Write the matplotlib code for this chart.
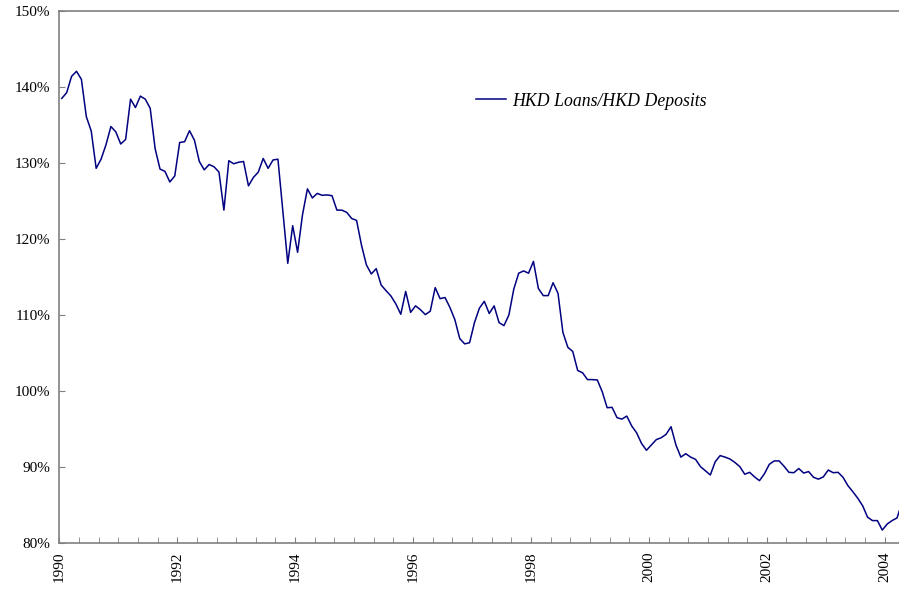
import numpy as np
import matplotlib.pyplot as plt
from matplotlib.ticker import FixedLocator, FuncFormatter

# HKD loans / HKD deposits, monthly from Jan 1990
start_year = 1990
ratio = [
    138.5, 139.25, 141.4, 142.07, 141.0, 136.1, 134.2, 129.3, 130.5, 132.4, 134.8, 134.1,
    132.5, 133.1, 138.4, 137.3, 138.8, 138.4, 137.2, 131.9, 129.2, 128.9, 127.5, 128.3,
    132.7, 132.8, 134.25, 133.0, 130.2, 129.1, 129.8, 129.5, 128.8, 123.8, 130.3, 129.9,
    130.1, 130.2, 127.0, 128.1, 128.8, 130.6, 129.3, 130.4, 130.5, 123.6, 116.8, 121.75,
    118.25, 123.2, 126.6, 125.4, 126.0, 125.75, 125.8, 125.7, 123.8, 123.8, 123.5, 122.7,
    122.45, 119.2, 116.6, 115.4, 116.1, 113.95, 113.2, 112.5, 111.45, 110.1, 113.1, 110.35,
    111.2, 110.7, 110.05, 110.5, 113.6, 112.15, 112.3, 111.0, 109.4, 106.9, 106.2, 106.35,
    109.0, 110.9, 111.8, 110.2, 111.2, 109.0, 108.6, 110.0, 113.4, 115.5, 115.8, 115.5,
    117.05, 113.5, 112.55, 112.55, 114.25, 112.85, 107.7, 105.75, 105.2, 102.7, 102.4, 101.5,
    101.5, 101.45, 99.9, 97.8, 97.85, 96.5, 96.3, 96.7, 95.4, 94.5, 93.1, 92.2,
    92.9, 93.6, 93.85, 94.3, 95.3, 92.9, 91.3, 91.75, 91.3, 91.0, 90.05, 89.5,
    88.95, 90.7, 91.5, 91.3, 91.05, 90.6, 90.05, 89.05, 89.3, 88.7, 88.2, 89.1,
    90.35, 90.8, 90.8, 90.1, 89.3, 89.25, 89.8, 89.2, 89.4, 88.65, 88.4, 88.7,
    89.6, 89.25, 89.3, 88.65, 87.55, 86.75, 85.9, 84.9, 83.4, 82.95, 82.95, 81.7,
    82.5, 82.95, 83.3, 85.3,
]
label_years = [1990, 1992, 1994, 1996, 1998, 2000, 2002, 2004]
y_ticks = [80, 90, 100, 110, 120, 130, 140, 150]

plt.rcParams['font.family'] = ['Liberation Serif', 'DejaVu Serif']

x = start_year + (np.arange(len(ratio)) + 0.5) / 12

fig = plt.figure(figsize=(8.99, 5.9), dpi=100)
ax = fig.add_axes([59.3/899, 47/590, (899-59.3)/899, 532/590])

ax.plot(x, ratio, color='#000080', linewidth=1.1, label='HKD Loans/HKD Deposits')

ax.set_xlim(start_year, start_year + (170.4 + 0.5) / 12)
ax.set_ylim(80, 150)

# ticks every 4 months, labels every 2 years
minor = start_year + np.arange(0, 44) / 3
ax.xaxis.set_major_locator(FixedLocator(label_years))
ax.xaxis.set_minor_locator(FixedLocator(minor))
ax.set_xticklabels([str(y) for y in label_years], rotation=90, fontsize=11)
ax.set_yticks(y_ticks)
ax.yaxis.set_major_formatter(FuncFormatter(lambda v, p: '%d%%' % v))
ax.tick_params(axis='y', labelsize=11, direction='in', length=4, color='#808080', pad=6.5)
ax.tick_params(axis='x', which='both', direction='in', length=4, color='#808080', pad=6)

for s in ['left', 'bottom', 'top']:
    ax.spines[s].set_color('#808080')
    ax.spines[s].set_linewidth(1.2)
ax.spines['right'].set_visible(False)

leg = ax.legend(loc='center left', bbox_to_anchor=(476/899, 1 - 101/590),
                bbox_transform=fig.transFigure, frameon=False,
                borderpad=0, borderaxespad=0, handlelength=1.7, handletextpad=0.35,
                prop={'style': 'italic', 'size': 12.8})

fig.savefig('out.png', dpi=100)
